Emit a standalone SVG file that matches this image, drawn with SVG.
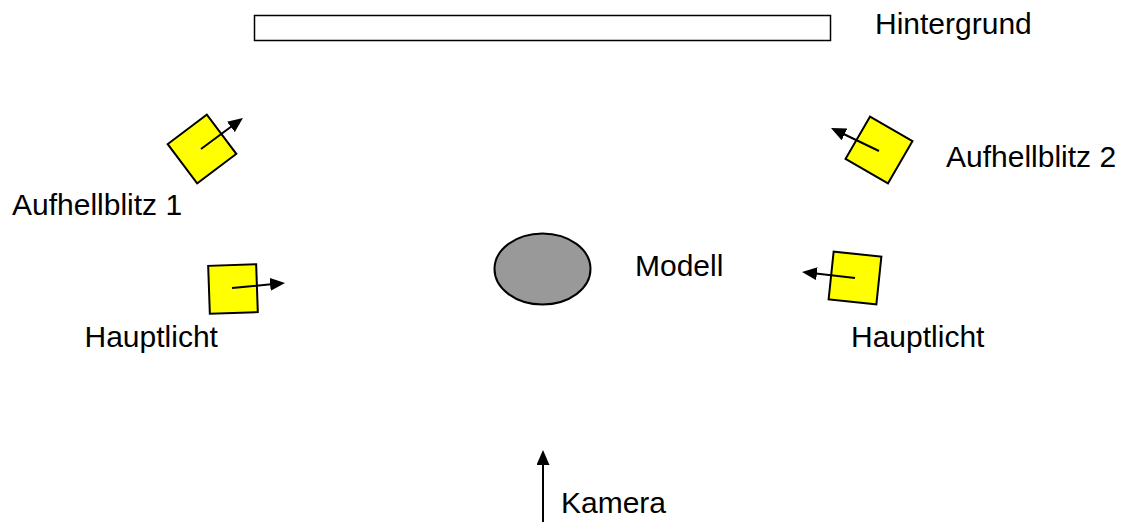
<svg xmlns="http://www.w3.org/2000/svg" width="1129" height="522" viewBox="0 0 1129 522">
<style>
text{font-family:"Liberation Sans",Arial,sans-serif;font-size:30px;fill:#000}
.lamp{fill:#ffff00;stroke:#000;stroke-width:2}
.arr{stroke:#000;stroke-width:2;fill:none;marker-end:url(#ah)}
</style>
<defs>
<marker id="ah" viewBox="0 0 15 13" refX="1" refY="6.5" markerWidth="15" markerHeight="13" markerUnits="userSpaceOnUse" orient="auto">
<path d="M0,0 L15,6.5 L0,13 z" fill="#000"/>
</marker>
</defs>
<rect width="1129" height="522" fill="#fff"/>
<g id="hintergrund">
<rect x="254.5" y="15.5" width="576" height="25" fill="#fff" stroke="#000" stroke-width="1.5"/>
<text x="875" y="34">Hintergrund</text>
</g>
<g id="modell">
<ellipse cx="542.5" cy="269" rx="48" ry="35.5" fill="#999" stroke="#000" stroke-width="2"/>
<text x="635" y="276">Modell</text>
</g>
<g id="aufhellblitz1">
<rect class="lamp" x="-24.5" y="-24.5" width="49" height="49" transform="translate(202,149) rotate(-37)"/>
<text x="12" y="215">Aufhellblitz 1</text>
</g>
<g id="aufhellblitz2">
<rect class="lamp" x="-24.5" y="-24.5" width="49" height="49" transform="translate(879,150) rotate(30)"/>
<text x="946" y="167">Aufhellblitz 2</text>
</g>
<g id="hauptlicht1">
<rect class="lamp" x="-24" y="-24" width="48" height="48" transform="translate(233,289) rotate(-2)"/>
<text x="84.5" y="347">Hauptlicht</text>
</g>
<g id="hauptlicht2">
<rect class="lamp" x="-24" y="-24" width="48" height="48" transform="translate(855,278) rotate(6)"/>
<text x="851" y="347">Hauptlicht</text>
</g>
<g id="kamera">
<text x="561" y="513">Kamera</text>
</g>
<g id="connectors">
<line class="arr" x1="201" y1="149" x2="231.7" y2="126.3"/>
<line class="arr" x1="879" y1="151" x2="843.6" y2="134"/>
<line class="arr" x1="232" y1="288" x2="271.1" y2="284.3"/>
<line class="arr" x1="855" y1="278" x2="815.9" y2="273.6"/>
<line class="arr" x1="543" y1="522" x2="543" y2="464"/>
</g>
</svg>
